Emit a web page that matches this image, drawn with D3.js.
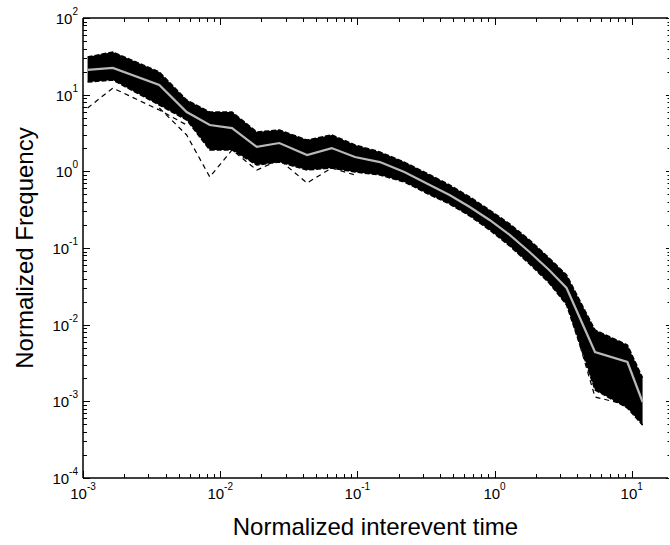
<html>
<head>
<style>
  body { margin: 0; background: #ffffff; font-family: Arial, "Liberation Sans", sans-serif; }
  .tick-label { font-size: 15px; }
  .sup { font-size: 10px; }
  .axis-title { font-size: 24px; }
</style>
<script src="https://d3js.org/d3.v7.min.js"></script>
</head>
<body>
<svg id="chart"></svg>
<script>

// bin centres on the time axis
let binTimes = [0.00108, 0.00165, 0.0036, 0.0057, 0.0084, 0.0122, 0.0185, 0.027, 0.043, 0.065, 0.096, 0.146,
                0.22, 0.34, 0.47, 0.66, 0.92, 1.29, 1.8, 2.5, 3.35, 5.4, 9.3, 12]
// grey curve
let medianFreq = [21.0, 22.3, 13.4, 5.94, 4.02, 3.67, 2.08, 2.34, 1.63, 2.01, 1.54, 1.32,
                  0.98, 0.66, 0.49, 0.343, 0.232, 0.148, 0.0887, 0.0516, 0.0301, 0.0044, 0.00326, 0.00098]
// top and bottom of the black bundle of curves
let upperFreq = [31.0, 36.0, 19.8, 8.52, 5.94, 5.94, 3.26, 3.46, 2.56, 2.98, 2.21, 1.79,
                 1.32, 0.896, 0.664, 0.463, 0.313, 0.206, 0.127, 0.0741, 0.0445, 0.00853, 0.00543, 0.00202]
let lowerFreq = [14.6, 15.5, 7.33, 4.67, 1.90, 1.90, 1.21, 1.32, 1.04, 1.105, 0.98, 0.896,
                 0.726, 0.491, 0.375, 0.2615, 0.1718, 0.1062, 0.0618, 0.035, 0.0181, 0.00141, 0.000819, 0.000491]
// a few stray curves that fall below the bundle
let strayLeft = [6.70, 12.2, 6.31, 4.02, null, null, null, null, null, null, null, null,
                 null, null, null, null, null, null, null, null, null, null, null, null]
let strayMid = [null, null, 6.70, 2.98, 0.844, 1.90, 1.04, 1.41, 0.705, 1.105, 0.896, null,
                null, null, null, null, null, null, null, null, null, null, null, null]
let strayRight = [null, null, null, null, null, null, null, null, null, null, null, null,
                  null, null, null, null, null, null, null, 0.035, 0.021, 0.00114, 0.000896, 0.000491]

let xExponents = [-3, -2, -1, 0, 1]
let yExponents = [-4, -3, -2, -1, 0, 1, 2]

let width = 670, height = 545
let mLeft = 83, mRight = 668, mTop = 18, mBottom = 478

let svg = d3.select('#chart').attr('width', width).attr('height', height)

let x = d3.scaleLog().domain([1e-3, Math.pow(10, 1.2645)]).range([mLeft, mRight])
let y = d3.scaleLog().domain([1e-4, 1e2]).range([mBottom, mTop])

let pts = arr => binTimes.map((t, i) => [t, arr[i]])

// black bundle
let area = d3.area()
    .x(d => x(d[0]))
    .y0(d => y(d[1]))
    .y1(d => y(d[2]))
let band = binTimes.map((t, i) => [t, lowerFreq[i], upperFreq[i]])
svg.append('path').attr('d', area(band)).attr('fill', '#000')

let line = d3.line()
    .defined(d => d[1] != null)
    .x(d => x(d[0]))
    .y(d => y(d[1]))

;[upperFreq, lowerFreq].forEach(s => {
  svg.append('path').attr('d', line(pts(s)))
    .attr('fill', 'none').attr('stroke', '#000').attr('stroke-width', 1.5)
    .attr('stroke-dasharray', '5,2')
})
;[strayLeft, strayMid, strayRight].forEach(s => {
  svg.append('path').attr('d', line(pts(s)))
    .attr('fill', 'none').attr('stroke', '#000').attr('stroke-width', 1.2)
    .attr('stroke-dasharray', '5,4')
})

svg.append('path').attr('d', line(pts(medianFreq)))
  .attr('fill', 'none').attr('stroke', '#b9b9b9').attr('stroke-width', 2.2)

// frame
let frame = svg.append('g').attr('stroke', '#000').attr('stroke-width', 1.5)
frame.append('line').attr('x1', mLeft).attr('x2', mLeft).attr('y1', mTop).attr('y2', mBottom)
frame.append('line').attr('x1', mLeft).attr('x2', mRight).attr('y1', mBottom).attr('y2', mBottom)
frame.append('line').attr('x1', mLeft).attr('x2', mRight).attr('y1', mTop).attr('y2', mTop)

let isMajor = v => Math.abs(Math.log10(v) - Math.round(Math.log10(v))) < 1e-6
let ticks = svg.append('g').attr('stroke', '#000').attr('stroke-width', 1)

x.ticks().filter(v => v <= x.domain()[1]).forEach(v => {
  let len = isMajor(v) ? 7 : 4
  let px = Math.round(x(v)) + 0.5
  ticks.append('line').attr('x1', px).attr('x2', px).attr('y1', mBottom).attr('y2', mBottom - len)
  ticks.append('line').attr('x1', px).attr('x2', px).attr('y1', mTop).attr('y2', mTop + len)
})
y.ticks().forEach(v => {
  let len = isMajor(v) ? 7 : 4
  let py = Math.round(y(v)) + 0.5
  ticks.append('line').attr('x1', mLeft).attr('x2', mLeft + len).attr('y1', py).attr('y2', py)
  ticks.append('line').attr('x1', mRight + 1).attr('x2', mRight + 1 - (isMajor(v) ? 3 : 1.5))
    .attr('y1', py).attr('y2', py)
})

// tick labels
xExponents.forEach(e => {
  let t = svg.append('text').attr('class', 'tick-label')
    .attr('x', x(Math.pow(10, e))).attr('y', 499).attr('text-anchor', 'middle')
  t.append('tspan').text('10')
  t.append('tspan').attr('class', 'sup').attr('dy', -9).text(e)
})
yExponents.forEach(e => {
  let t = svg.append('text').attr('class', 'tick-label')
    .attr('x', 78).attr('y', y(Math.pow(10, e)) + 6).attr('text-anchor', 'end')
  t.append('tspan').text('10')
  t.append('tspan').attr('class', 'sup').attr('dy', -9).text(e)
})

// axis titles
svg.append('text').attr('class', 'axis-title')
  .attr('x', (mLeft + mRight) / 2).attr('y', 535).attr('text-anchor', 'middle')
  .text('Normalized interevent time')
svg.append('text').attr('class', 'axis-title')
  .attr('transform', `translate(33,${(mTop + mBottom) / 2}) rotate(-90)`)
  .attr('text-anchor', 'middle')
  .text('Normalized Frequency')

</script>
</body>
</html>
